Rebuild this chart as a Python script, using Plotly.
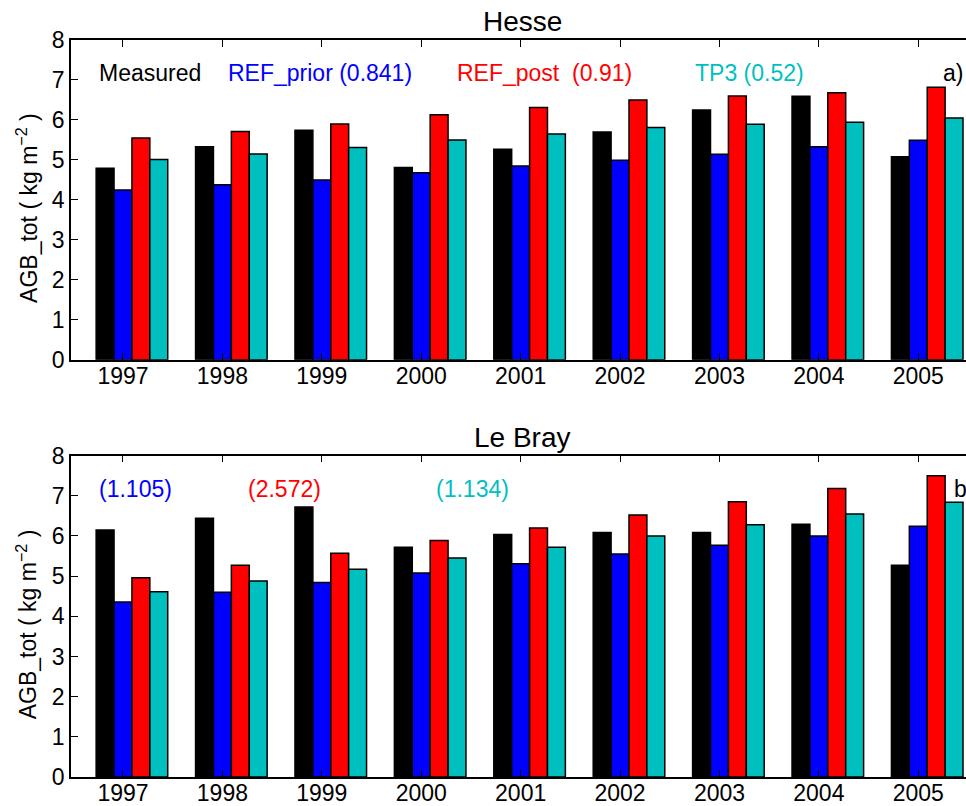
import plotly.graph_objects as go

years = [1997, 1998, 1999, 2000, 2001, 2002, 2003, 2004, 2005]
year_labels = [str(y) for y in years]

hesse_measured = [4.79, 5.33, 5.74, 4.81, 5.27, 5.70, 6.25, 6.59, 5.08]
hesse_ref_prior = [4.25, 4.38, 4.50, 4.68, 4.85, 4.99, 5.14, 5.33, 5.49]
hesse_ref_post = [5.55, 5.71, 5.90, 6.13, 6.31, 6.50, 6.60, 6.68, 6.82]
hesse_tp3 = [5.01, 5.15, 5.31, 5.50, 5.65, 5.81, 5.89, 5.94, 6.05]

lebray_measured = [6.15, 6.44, 6.72, 5.72, 6.04, 6.09, 6.09, 6.29, 5.27]
lebray_ref_prior = [4.36, 4.60, 4.84, 5.08, 5.31, 5.55, 5.77, 6.00, 6.24]
lebray_ref_post = [4.96, 5.27, 5.57, 5.89, 6.20, 6.52, 6.85, 7.18, 7.50]
lebray_tp3 = [4.61, 4.88, 5.17, 5.45, 5.72, 6.00, 6.28, 6.55, 6.84]

series_names = ["Measured", "REF_prior", "REF_post", "TP3"]
colors = ["#000000", "#0000FF", "#FF0000", "#00BFBF"]
offsets = [-0.27, -0.09, 0.09, 0.27]
bar_width = 0.18

FONT = "Liberation Sans, Arial, Helvetica, sans-serif"
YTITLE = "AGB_tot ( kg m<sup>\u22122</sup> )"

fig = go.Figure()

panels = [
    ("x", "y", [hesse_measured, hesse_ref_prior, hesse_ref_post, hesse_tp3]),
    ("x2", "y2", [lebray_measured, lebray_ref_prior, lebray_ref_post, lebray_tp3]),
]
for xa, ya, data in panels:
    for name, vals, col, off in zip(series_names, data, colors, offsets):
        fig.add_trace(go.Bar(
            x=years, y=vals, name=name, xaxis=xa, yaxis=ya,
            width=bar_width, offset=off,
            marker=dict(color=col, line=dict(color="#000000", width=1.5)),
            showlegend=False, hoverinfo="x+y+name",
        ))

xrange = [1996.477, 2005.48]
common_x = dict(
    range=xrange, tickmode="array", tickvals=years, ticktext=year_labels,
    ticks="inside", ticklen=7, tickwidth=1.2, tickcolor="#000",
    showline=True, linecolor="#000", linewidth=1.5, mirror="ticks",
    showgrid=False, zeroline=False, automargin=False,
    ticklabelstandoff=-5,
    tickfont=dict(family=FONT, size=23, color="#000"),
)
common_y = dict(
    range=[0, 8], dtick=1, ticks="inside", ticklen=7, tickwidth=1.2, tickcolor="#000",
    showline=True, linecolor="#000", linewidth=1.5, mirror=False,
    showgrid=False, zeroline=False, automargin=False,
    tickfont=dict(family=FONT, size=23, color="#000"),
)
right_y = dict(
    range=[0, 8], dtick=1, ticks="inside", ticklen=3, tickwidth=1.2, tickcolor="#000",
    side="right", showticklabels=False, showline=False, showgrid=False, zeroline=False,
    automargin=False,
)

top_dom = [0.566, 1.0]
bot_dom = [0.0, 0.436]

fig.update_layout(
    width=966, height=806,
    margin=dict(l=71, r=0, t=40, b=29),
    paper_bgcolor="white", plot_bgcolor="white",
    barmode="overlay",
    showlegend=False,
    font=dict(family=FONT, color="#000"),
    xaxis=dict(domain=[0, 1], anchor="y", **common_x),
    yaxis=dict(domain=top_dom, anchor="x", **common_y),
    xaxis2=dict(domain=[0, 1], anchor="y2", **common_x),
    yaxis2=dict(domain=bot_dom, anchor="x2", **common_y),
    yaxis3=dict(overlaying="y", anchor="x", **right_y),
    yaxis4=dict(overlaying="y2", anchor="x2", **right_y),
)

ann_font = 23
top_labels = [
    ("Measured", "#000000", 0.029),
    ("REF_prior (0.841)", "#0000FF", 0.173),
    ("REF_post  (0.91)", "#FF0000", 0.429),
    ("TP3 (0.52)", "#00BFBF", 0.695),
    ("a)", "#000000", 0.972),
]
bot_labels = [
    ("(1.105)", "#0000FF", 0.029),
    ("(2.572)", "#FF0000", 0.1955),
    ("(1.134)", "#00BFBF", 0.4056),
    ("b)", "#000000", 0.984),
]
for text, col, xp in top_labels:
    fig.add_annotation(text=text.replace("  ", "&nbsp; "), x=xp, xref="paper", y=7.18, yref="y",
                       xanchor="left", yanchor="middle", showarrow=False,
                       font=dict(family=FONT, size=ann_font, color=col))
for text, col, xp in bot_labels:
    fig.add_annotation(text=text, x=xp, xref="paper", y=7.17, yref="y2",
                       xanchor="left", yanchor="middle", showarrow=False,
                       font=dict(family=FONT, size=ann_font, color=col))

for title, ypaper in [("Hesse", top_dom[1]), ("Le Bray", bot_dom[1])]:
    fig.add_annotation(text=title, x=0.504, xref="paper", y=ypaper, yref="paper",
                       xanchor="center", yanchor="bottom", yshift=1, showarrow=False,
                       font=dict(family=FONT, size=28, color="#000"))

for dom in (top_dom, bot_dom):
    fig.add_annotation(text=YTITLE, textangle=-90, x=0, xref="paper", xshift=-44,
                       y=(dom[0] + dom[1]) / 2, yref="paper", yshift=-8,
                       xanchor="center", yanchor="middle", showarrow=False,
                       font=dict(family=FONT, size=23, color="#000"))

fig.write_html(
    "out.html",
    config={"displayModeBar": False},
    post_script="document.body.style.margin='0';document.body.style.overflow='hidden';",
)
